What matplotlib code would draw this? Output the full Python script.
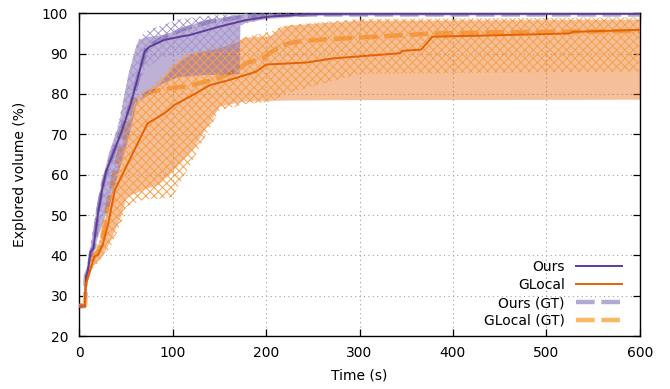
import numpy as np
import matplotlib
matplotlib.use('Agg')
import matplotlib.pyplot as plt

# ---- data (time in s, explored volume in %) ----
t_ours = [0, 6, 7, 9, 12, 15, 20, 25, 29, 45, 55, 62, 70, 75, 91, 110, 118, 150, 178, 204, 243, 300, 600]
v_ours = [27.3, 27.5, 34.7, 36, 40.9, 41.7, 50.4, 57, 61, 70.5, 77.5, 83.5, 90.5, 91.7, 93.4, 94.3, 94.6, 96.7, 98.3, 99.2, 99.8, 99.9, 99.9]

t_ours_gt = [0, 6, 7, 10, 13, 16, 20, 26, 31, 45, 56, 64, 72, 90, 110, 140, 170, 200, 250, 600]
v_ours_gt = [27.5, 27.6, 35, 36.5, 41, 42, 51, 58.5, 62, 71, 78, 85, 91.5, 94, 96, 98, 99, 99.6, 99.7, 99.7]

t_gl = [0, 6, 7, 10, 16, 20, 25, 31, 38, 48.6, 62.5, 73, 91, 102, 118, 140, 161, 189, 200, 243, 271, 343, 346, 366, 378, 418, 525, 528, 600]
v_gl = [27.3, 27.5, 33, 35, 39.7, 40.1, 42.6, 47.9, 56.2, 61.2, 67.8, 72.7, 75.2, 77.3, 79.3, 82.2, 83.5, 85.5, 87.3, 87.8, 88.8, 90.1, 90.7, 91, 94.2, 94.4, 95, 95.4, 95.9]

t_gl_gt = [0, 6, 7, 10, 16, 20, 25, 30, 40, 50, 57, 75, 100, 118, 150, 170, 178, 196, 214, 225, 240, 300, 380, 450, 600]
v_gl_gt = [27.5, 27.6, 34, 36, 40, 41, 45, 52, 63, 72, 78, 80.5, 81.5, 82, 84, 86, 87.6, 88.8, 91.7, 92.6, 93.2, 94, 95, 95.3, 95.6]

# min / max bands
t_band = [0, 6, 7, 12, 20, 31, 42, 52, 60, 63, 70, 88, 105, 132, 171, 172, 200, 250, 600]
ours_lo = [27, 27, 33, 39, 45, 52, 61, 69, 77, 78.5, 79.3, 82.6, 84.3, 84.8, 85, 97.5, 98.7, 99.5, 99.7]
ours_hi = [28, 28, 36, 43, 54.5, 65.3, 72.7, 85, 91.7, 93.4, 94.2, 94.7, 95.9, 98.3, 99.6, 99.7, 100, 100, 100]

ours_gt_lo = [27, 27, 33, 39, 46, 54, 62, 70, 79, 82, 86, 89, 90, 90.5, 91, 97, 98.8, 99.5, 99.7]
ours_gt_hi = [28, 28, 36, 43, 54, 64, 73, 84, 91, 93.5, 95.5, 97, 98.5, 99.3, 99.8, 100, 100, 100, 100]

t_gband = [0, 6, 7, 12, 20, 25, 33.5, 44.6, 50, 60, 70, 84, 100, 120, 150, 170, 175, 205, 220, 300, 600]
gl_lo = [27, 27, 32, 37, 39, 40, 44, 50, 54.5, 55.5, 56.5, 57.5, 61, 66, 77, 78, 78.2, 78.4, 78.5, 78.6, 78.7]
gl_hi = [28, 28, 35, 40, 42, 47, 54.5, 66, 71, 77.7, 80, 82, 87, 90, 91.5, 93, 94, 94.5, 97, 98.3, 98.5]

gl_gt_lo = [27, 27, 32, 36, 38, 40, 42, 48, 52, 53, 54, 54, 54.5, 63, 76, 77, 77.5, 78, 80, 85, 85.6]
gl_gt_hi = [28, 28, 35, 40, 42, 48, 56, 67, 74, 79, 81, 83, 88, 90.5, 92, 93.5, 94, 95.5, 97, 98.6, 99]

C_OURS = '#5e3c99'
C_GL = '#e66101'
C_OURS_GT = '#b2abd2'
C_GL_GT = '#fdb863'

plt.rcParams['hatch.linewidth'] = 0.7

fig = plt.figure(figsize=(6.7, 3.89), dpi=100)
ax = fig.add_axes([0.1184, 0.1362, 0.8364, 0.8296])

# GT lines sit under the translucent bands, as in the original
ax.plot(t_ours_gt, v_ours_gt, color=C_OURS_GT, lw=3.2, dashes=(4.2, 1.5), label='Ours (GT)', zorder=1)
ax.plot(t_gl_gt, v_gl_gt, color=C_GL_GT, lw=3.2, dashes=(4.2, 1.5), label='GLocal (GT)', zorder=1)

ax.fill_between(t_gband, gl_lo, gl_hi, color=C_GL, alpha=0.4, lw=0, zorder=2)
ax.fill_between(t_band, ours_lo, ours_hi, color=C_OURS, alpha=0.4, lw=0, zorder=2)
ax.fill_between(t_gband, gl_gt_lo, gl_gt_hi, facecolor='none', edgecolor='#f7a04a',
                hatch='xxxx', lw=0, zorder=3)
ax.fill_between(t_band, ours_gt_lo, ours_gt_hi, facecolor='none', edgecolor='#a597cf',
                hatch='xxxx', lw=0, zorder=3)

ax.plot(t_ours, v_ours, color=C_OURS, lw=1.4, label='Ours', zorder=4)
ax.plot(t_gl, v_gl, color=C_GL, lw=1.4, label='GLocal', zorder=4)

ax.set_xlim(0, 600)
ax.set_ylim(20, 100)
ax.set_xticks(np.arange(0, 601, 100))
ax.set_yticks(np.arange(20, 101, 10))
ax.tick_params(direction='in', top=True, right=True, length=5, width=0.9,
               labelsize=10, colors='black')
ax.tick_params(axis='y', pad=8)
ax.tick_params(axis='x', pad=7)
ax.grid(True, color='#a0a0a0', lw=0.8, linestyle=(0, (1, 3)), zorder=0)
ax.set_axisbelow(True)
for sp in ax.spines.values():
    sp.set_linewidth(1.0)

ax.set_xlabel('Time (s)', fontsize=10, labelpad=6)
ax.set_ylabel('Explored volume (%)', fontsize=10, labelpad=11)

h, l = ax.get_legend_handles_labels()
order = [2, 3, 0, 1]
ax.legend([h[i] for i in order], [l[i] for i in order], loc='lower right',
          bbox_to_anchor=(0.985, -0.005), markerfirst=False, frameon=False,
          fontsize=10, handlelength=3.3, labelspacing=0.28, borderaxespad=0.3,
          handletextpad=0.8)

fig.savefig('out.png', dpi=100)
